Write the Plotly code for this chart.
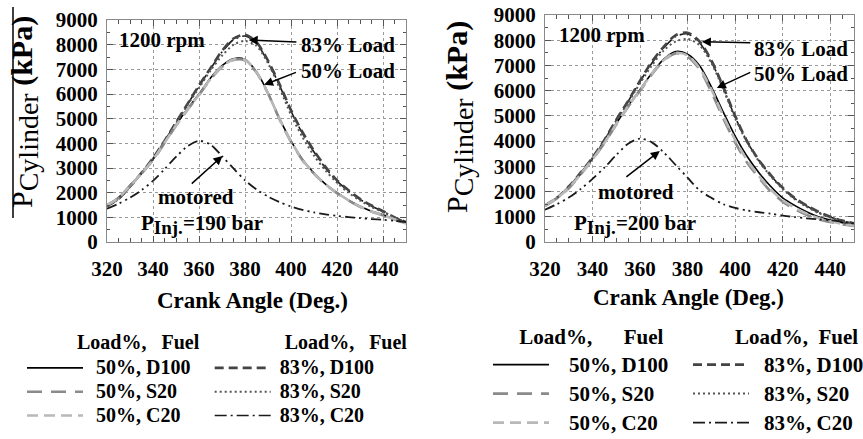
import plotly.graph_objects as go

FONT = "Liberation Serif, Times New Roman, Times, serif"
W, H = 863, 439

# ---------------- data ----------------
ANGLE = [320, 325, 330, 335, 340, 345, 350, 355, 360, 365, 370, 375, 380, 385,
         390, 395, 400, 405, 410, 415, 420, 425, 430, 435, 440, 445, 450]

# Left panel: P_inj = 190 bar
L_MOTORED = [1350, 1550, 1800, 2100, 2480, 2950, 3450, 3880, 4100, 3950, 3480, 2980, 2500, 2130,
             1840, 1620, 1440, 1300, 1200, 1120, 1060, 1010, 970, 930, 900, 860, 810]
L_50_D100 = [1500, 1800, 2300, 2800, 3350, 4050, 4750, 5400, 6000, 6650, 7150, 7430, 7400, 6900,
             6050, 5000, 4100, 3350, 2800, 2350, 2000, 1700, 1450, 1250, 1100, 930, 770]
L_50_S20 = [1480, 1780, 2270, 2770, 3320, 4010, 4710, 5360, 5960, 6600, 7100, 7380, 7360, 6870,
            6020, 4980, 4060, 3320, 2770, 2330, 1980, 1680, 1430, 1230, 1080, 910, 760]
L_50_C20 = [1490, 1790, 2280, 2780, 3330, 4020, 4720, 5370, 5970, 6610, 7110, 7400, 7380, 6880,
            6030, 4990, 4080, 3330, 2780, 2340, 1990, 1690, 1440, 1240, 1090, 920, 760]
L_83_D100 = [1450, 1750, 2250, 2800, 3400, 4100, 4850, 5600, 6350, 7050, 7750, 8250, 8400, 8100,
             7350, 6400, 5350, 4450, 3700, 3050, 2500, 2100, 1750, 1480, 1250, 1000, 800]
L_83_S20 = [1440, 1740, 2230, 2780, 3380, 4080, 4800, 5550, 6250, 6950, 7550, 8000, 8150, 7950,
            7250, 6250, 5150, 4250, 3500, 2900, 2400, 2000, 1680, 1420, 1210, 990, 790]
L_83_C20 = [1450, 1750, 2240, 2790, 3390, 4090, 4830, 5580, 6320, 7020, 7700, 8200, 8350, 8050,
            7300, 6350, 5300, 4400, 3650, 3000, 2470, 2070, 1730, 1460, 1240, 1000, 800]

# Right panel: P_inj = 200 bar
R_MOTORED = [1280, 1500, 1760, 2100, 2500, 2950, 3450, 3900, 4100, 3950, 3550, 3050, 2550, 2050,
             1750, 1500, 1350, 1250, 1180, 1120, 1050, 990, 940, 900, 860, 800, 730]
R_50_D100 = [1450, 1750, 2150, 2700, 3300, 3950, 4700, 5400, 6050, 6700, 7250, 7550, 7450, 7000,
             6150, 5150, 4200, 3400, 2750, 2200, 1750, 1450, 1200, 1000, 870, 760, 680]
R_50_S20 = [1430, 1730, 2130, 2680, 3270, 3920, 4660, 5360, 6000, 6650, 7200, 7480, 7350, 6850,
            5950, 4900, 3950, 3150, 2550, 2000, 1600, 1300, 1080, 900, 790, 700, 640]
R_50_C20 = [1440, 1740, 2140, 2690, 3280, 3930, 4680, 5380, 6030, 6680, 7220, 7500, 7400, 6900,
            6050, 5000, 4050, 3250, 2620, 2080, 1660, 1360, 1130, 950, 820, 720, 650]
R_83_D100 = [1450, 1750, 2200, 2750, 3350, 4050, 4850, 5600, 6400, 7150, 7750, 8200, 8300, 7950,
             7200, 6150, 5000, 4000, 3250, 2650, 2150, 1750, 1450, 1200, 1000, 850, 740]
R_83_S20 = [1440, 1740, 2180, 2730, 3320, 4020, 4800, 5530, 6300, 7000, 7600, 7950, 8050, 7800,
            7100, 6050, 4900, 3950, 3200, 2600, 2100, 1700, 1400, 1150, 970, 830, 720]
R_83_C20 = [1450, 1750, 2190, 2740, 3340, 4040, 4830, 5580, 6370, 7100, 7700, 8150, 8250, 7900,
            7150, 6100, 4950, 3980, 3230, 2630, 2130, 1730, 1430, 1180, 990, 840, 730]

SERIES_NAMES = ["50%, D100", "50%, S20", "50%, C20", "83%, D100", "83%, S20", "83%, C20"]
X_TICKS = [320, 340, 360, 380, 400, 420, 440]
Y_TICKS = [0, 1000, 2000, 3000, 4000, 5000, 6000, 7000, 8000, 9000]

# ---------------- styles ----------------
STYLE = {
    "50%, D100": dict(color="#000000", width=1.6, dash="solid"),
    "50%, S20": dict(color="#8a8a8a", width=2.6, dash="15px,9px"),
    "50%, C20": dict(color="#b8b8b8", width=2.6, dash="11px,6px"),
    "83%, D100": dict(color="#444444", width=2.6, dash="9px,5px"),
    "83%, S20": dict(color="#555555", width=2.0, dash="2px,3px"),
    "83%, C20": dict(color="#1a1a1a", width=1.6, dash="12px,4px,2px,4px"),
}
MOTORED_STYLE = dict(color="#1a1a1a", width=1.8, dash="10px,4px,2px,4px,2px,4px")
DRAW_ORDER = ["50%, D100", "83%, C20", "83%, D100", "83%, S20", "50%, S20", "50%, C20"]

NB = "&nbsp;"
panels = [
    dict(xa="x", ya="y", legend="legend",
         data={"50%, D100": L_50_D100, "50%, S20": L_50_S20, "50%, C20": L_50_C20,
               "83%, D100": L_83_D100, "83%, S20": L_83_S20, "83%, C20": L_83_C20},
         motored=L_MOTORED, widths={"50": 109, "83": 105},
         tsize=20, nsize=20, lead={"50": 2, "83": 1},
         titles={"50": NB * 10 + "Load%," + NB * 3 + "Fuel",
                 "83": NB * 14 + "Load%," + NB * 3 + "Fuel"}),
    dict(xa="x2", ya="y2", legend="legend2",
         data={"50%, D100": R_50_D100, "50%, S20": R_50_S20, "50%, C20": R_50_C20,
               "83%, D100": R_83_D100, "83%, S20": R_83_S20, "83%, C20": R_83_C20},
         motored=R_MOTORED, widths={"50": 129, "83": 100},
         tsize=21, nsize=21, lead={"50": 3, "83": 2},
         titles={"50": NB * 5 + "Load%," + NB * 6 + "Fuel",
                 "83": NB * 8 + "Load%," + NB * 2 + "Fuel"}),
]

fig = go.Figure()
for p in panels:
    for name in DRAW_ORDER:
        grp = name[:2]
        label = NB * p["lead"][grp] + "<span style='font-size:%dpx'><b>%s</b></span>" % (p["nsize"], name)
        fig.add_trace(go.Scatter(
            x=ANGLE, y=p["data"][name], mode="lines", name=label,
            line=dict(shape="spline", smoothing=0.8, **STYLE[name]),
            xaxis=p["xa"], yaxis=p["ya"], legend=p["legend"],
            legendgroup=p["legend"] + grp, legendwidth=p["widths"][grp],
            legendrank=SERIES_NAMES.index(name) + 1,
            legendgrouptitle=dict(text="<span style='font-size:%dpx'><b>%s</b></span>"
                                  % (p["tsize"], p["titles"][grp]),
                                  font=dict(family=FONT, size=20 if p["legend"] == "legend" else 17,
                                            color="black")),
            hoverinfo="skip",
        ))
    fig.add_trace(go.Scatter(
        x=ANGLE, y=p["motored"], mode="lines", name="motored", showlegend=False,
        line=dict(shape="spline", smoothing=0.8, **MOTORED_STYLE),
        xaxis=p["xa"], yaxis=p["ya"], hoverinfo="skip",
    ))

tickfont = dict(family=FONT, size=21, color="black")
def xaxis(domain, anchor):
    return dict(domain=domain, anchor=anchor, range=[320, 450], tickvals=X_TICKS,
                ticktext=["<b>%d</b>" % v for v in X_TICKS],
                showgrid=True, gridcolor="#9a9a9a", griddash="dot", gridwidth=1,
                showline=True, linecolor="#8a8a8a", linewidth=1, mirror="ticks",
                ticks="inside", ticklen=6, tickcolor="#555", tickfont=tickfont,
                ticklabelstandoff=8, zeroline=False, automargin=False,
                minor=dict(dtick=5, ticks="inside", ticklen=4, tickcolor="#555", showgrid=False))
def yaxis(domain, anchor):
    return dict(domain=domain, anchor=anchor, range=[0, 9000], tickvals=Y_TICKS,
                ticktext=["<b>%d</b>" % v for v in Y_TICKS],
                showgrid=True, gridcolor="#9a9a9a", griddash="dot", gridwidth=1,
                showline=True, linecolor="#8a8a8a", linewidth=1, mirror="ticks",
                ticks="inside", ticklen=6, tickcolor="#555", tickfont=tickfont,
                ticklabelstandoff=4, zeroline=False, automargin=False,
                minor=dict(dtick=500, ticks="inside", ticklen=3, tickcolor="#555", showgrid=False))

def py(px):  # paper fraction from pixel row
    return (H - px) / H
def pxx(px):
    return px / W

legend_common = dict(orientation="h", traceorder="grouped", xanchor="left", yanchor="top",
                     bgcolor="rgba(0,0,0,0)", tracegroupgap=0, itemclick=False, itemdoubleclick=False)

fig.update_layout(
    width=W, height=H, autosize=False,
    margin=dict(l=0, r=0, t=0, b=0, pad=0, autoexpand=False),
    paper_bgcolor="white", plot_bgcolor="white",
    xaxis=xaxis([pxx(107), pxx(406)], "y"),
    yaxis=yaxis([py(242), py(20)], "x"),
    xaxis2=xaxis([pxx(545), pxx(854)], "y2"),
    yaxis2=yaxis([py(242), py(15)], "x2"),
    legend=dict(x=pxx(22), y=py(322), itemwidth=56,
                font=dict(family=FONT, size=16, color="black"), **legend_common),
    legend2=dict(x=pxx(488), y=py(320), itemwidth=56,
                 font=dict(family=FONT, size=20, color="black"), **legend_common),
    showlegend=True,
)

ann = []
bold = dict(family=FONT, size=21, color="black")
# axis titles
for cx, cy in [(25, 112), (460, 117)]:
    ann.append(dict(xref="paper", yref="paper", x=pxx(cx), y=py(cy), textangle=-90,
                    showarrow=False, xanchor="center", yanchor="middle",
                    text="P<sub><span style='font-size:28px'>Cylinder</span></sub> <b>(kPa)</b>",
                    font=dict(family=FONT, size=30, color="black")))
for cx, cy in [(252, 300), (688, 297)]:
    ann.append(dict(xref="paper", yref="paper", x=pxx(cx), y=py(cy), showarrow=False,
                    xanchor="center", yanchor="middle",
                    text="<b>Crank Angle (Deg.)</b>", font=dict(family=FONT, size=23, color="black")))

# panel labels
labels = [
    ("x", "y", 324.4, 8190, "1200 rpm", "left"),
    ("x", "y", 403.4, 7985, "83% Load", "left"),
    ("x", "y", 403.4, 6930, "50% Load", "left"),
    ("x", "y", 358.6, 1825, "motored", "center"),
    ("x", "y", 334.0, 720, "P<sub><span style='font-size:19px'>Inj.</span></sub>=190 bar", "left"),
    ("x2", "y2", 325.0, 8210, "1200 rpm", "left"),
    ("x2", "y2", 407.0, 7660, "83% Load", "left"),
    ("x2", "y2", 407.0, 6670, "50% Load", "left"),
    ("x2", "y2", 358.2, 1980, "motored", "center"),
    ("x2", "y2", 331.5, 700, "P<sub><span style='font-size:19px'>Inj.</span></sub>=200 bar", "left"),
]
for xr, yr, x, y, t, anc in labels:
    ann.append(dict(xref=xr, yref=yr, x=x, y=y, text="<b>" + t + "</b>", showarrow=False,
                    xanchor=anc, yanchor="middle", font=bold))

arrows = [
    ("x", "y", 381.6, 8190, 403.0, 8107),
    ("x", "y", 388.3, 6370, 402.8, 6900),
    ("x", "y", 370.2, 3490, 356.2, 2310),
    ("x2", "y2", 386.0, 7940, 407.0, 7900),
    ("x2", "y2", 392.3, 6110, 407.0, 6750),
    ("x2", "y2", 368.3, 3610, 353.6, 2540),
]
for xr, yr, x, y, axv, ayv in arrows:
    ann.append(dict(xref=xr, yref=yr, axref=xr, ayref=yr, x=x, y=y, ax=axv, ay=ayv,
                    text="", showarrow=True, arrowhead=2, arrowsize=1.2, arrowwidth=1.5,
                    arrowcolor="black"))

fig.update_layout(annotations=ann)
fig.add_shape(type="line", xref="paper", yref="paper", x0=pxx(13), x1=pxx(13),
              y0=py(218), y1=py(7), line=dict(color="black", width=1.5))

fig.write_html("out.html")
